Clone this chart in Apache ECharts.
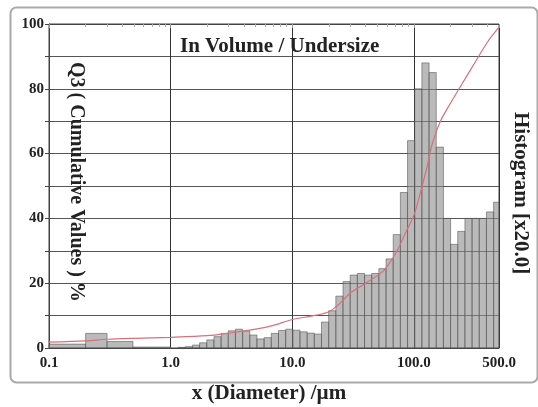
<!DOCTYPE html>
<html><head><meta charset="utf-8">
<script src="https://cdn.jsdelivr.net/npm/echarts@6/dist/echarts.min.js"></script>
<style>html,body{margin:0;padding:0;background:#fff}#c{width:538px;height:407px}</style>
</head><body><div id="c"></div>
<script>
// Histogram bins: lower edge, upper edge (µm), height (left-axis units, x20 scaled)
const binLow  = [0.1, 0.2, 0.3, 0.49, 1.151, 1.318, 1.510, 1.729, 1.981, 2.269, 2.599, 2.976, 3.409, 3.905, 4.472, 5.122, 5.867, 6.720, 7.697, 8.816, 10.097, 11.565, 13.246, 15.172, 17.377, 19.904, 22.797, 26.111, 29.907, 34.255, 39.234, 44.938, 51.471, 58.953, 67.523, 77.339, 88.583, 101.46, 116.21, 133.103, 152.453, 174.616, 200.0, 229.075, 262.376, 300.518, 344.206, 394.244, 451.556];
const binHigh = [0.2, 0.3, 0.49, 1.0, 1.318, 1.510, 1.729, 1.981, 2.269, 2.599, 2.976, 3.409, 3.905, 4.472, 5.122, 5.867, 6.720, 7.697, 8.816, 10.097, 11.565, 13.246, 15.172, 17.377, 19.904, 22.797, 26.111, 29.907, 34.255, 39.234, 44.938, 51.471, 58.953, 67.523, 77.339, 88.583, 101.46, 116.21, 133.103, 152.453, 174.616, 200.0, 229.075, 262.376, 300.518, 344.206, 394.244, 451.556, 500.0];
const binHeight = [1.2, 4.5, 2.0, 0.3, 0.2, 0.4, 0.9, 1.6, 2.5, 3.5, 4.5, 5.3, 5.8, 5.2, 4.0, 2.8, 3.2, 4.5, 5.4, 5.8, 5.5, 5.0, 4.6, 4.3, 8.0, 11.5, 16.0, 20.5, 22.5, 23.0, 22.5, 23.0, 24.5, 27.5, 35.0, 48.0, 64.0, 80.0, 88.0, 85.0, 62.0, 40.0, 32.0, 36.0, 40.0, 40.0, 40.0, 42.0, 45.0];

// Cumulative (undersize) curve
const cumX = [0.1, 0.2, 0.3, 0.5, 1.0, 2.0, 3.0, 5.0, 7.0, 10, 15, 20, 25, 30, 40, 55, 65, 75, 85, 100, 115, 130, 140, 165, 200, 250, 300, 400, 500];
const cumY = [1.8, 2.2, 2.7, 3.0, 3.3, 3.8, 4.6, 5.8, 7.0, 8.8, 10.0, 11.2, 14, 17, 20, 23.5, 27, 31, 35.5, 41, 49, 57, 62.5, 70, 75.6, 81.7, 86.6, 94.3, 99];

const histData = binLow.map((lo, i) => [lo, binHigh[i], binHeight[i]]);
const cumData = cumX.map((x, i) => [x, cumY[i]]);

const serif = 'Liberation Serif';
const chart = echarts.init(document.getElementById('c'), null, {renderer: 'canvas'});
chart.setOption({
  animation: false,
  backgroundColor: '#fff',
  grid: {left: 49, right: 39, top: 24, bottom: 59, show: true, borderColor: '#444', borderWidth: 1, backgroundColor: 'transparent'},
  xAxis: [{
    type: 'log', logBase: 10, min: 0.1, max: 500, position: 'bottom',
    axisLine: {show: true, lineStyle: {color: '#444'}},
    axisTick: {show: false},
    splitLine: {show: true, lineStyle: {color: '#333', width: 1}},
    axisLabel: {color: '#222', fontFamily: serif, fontWeight: 'bold', fontSize: 15, margin: 8,
      formatter: v => Number(v).toFixed(1), showMaxLabel: true, showMinLabel: true}
  }, {
    type: 'log', logBase: 10, min: 0.1, max: 500, position: 'top',
    axisLine: {show: true, lineStyle: {color: '#444'}},
    axisTick: {show: true, inside: true, length: 4, lineStyle: {color: '#999'}},
    minorTick: {show: true, splitNumber: 9, length: 3, lineStyle: {color: '#aaa'}},
    axisLabel: {show: false}, splitLine: {show: false}
  }],
  yAxis: {
    type: 'value', min: 0, max: 100, interval: 10,
    axisLine: {show: true, lineStyle: {color: '#444'}},
    axisTick: {show: true, length: 4, lineStyle: {color: '#444'}},
    splitLine: {show: true, lineStyle: {color: '#555', width: 1}},
    axisLabel: {color: '#222', fontFamily: serif, fontWeight: 'bold', fontSize: 15, margin: 5,
      formatter: v => (v % 20 === 0 ? String(v) : '')}
  },
  series: [{
    type: 'custom', xAxisIndex: 0,
    data: histData,
    encode: {x: [0, 1], y: 2},
    renderItem: function (params, api) {
      const p0 = api.coord([api.value(0), 0]);
      const p1 = api.coord([api.value(1), api.value(2)]);
      return {type: 'rect', shape: {x: p0[0], y: p1[1], width: p1[0] - p0[0], height: p0[1] - p1[1]},
        style: {fill: 'rgba(140,140,140,0.6)', stroke: 'rgba(80,80,80,0.7)', lineWidth: 0.8}};
    },
    z: 2
  }, {
    type: 'line', xAxisIndex: 0, data: cumData, smooth: 0.3, showSymbol: false,
    lineStyle: {color: '#d8707a', width: 1.2}, z: 3
  }],
  graphic: [
    {type: 'rect', left: 8, top: 5, shape: {width: 527, height: 375, r: 6},
      style: {fill: 'none', stroke: '#aaa', lineWidth: 2}, z: -1},
    {type: 'text', left: 180, top: 36, style: {text: 'In Volume / Undersize', fontFamily: serif, fontWeight: 'bold', fontSize: 21, fill: '#222'}, z: 10},
    {type: 'text', x: 86, y: 62, rotation: -Math.PI / 2, style: {text: 'Q3 ( Cumulative Values ) %', fontFamily: serif, fontWeight: 'bold', fontSize: 20, fill: '#222'}, z: 10},
    {type: 'text', x: 531, y: 112, rotation: -Math.PI / 2, style: {text: 'Histogram [x20.0]', fontFamily: serif, fontWeight: 'bold', fontSize: 21, fill: '#222'}, z: 10},
    {type: 'text', left: 'center', top: 383, style: {text: 'x (Diameter) /µm', fontFamily: serif, fontWeight: 'bold', fontSize: 21, fill: '#222'}, z: 10}
  ]
});
</script></body></html>
